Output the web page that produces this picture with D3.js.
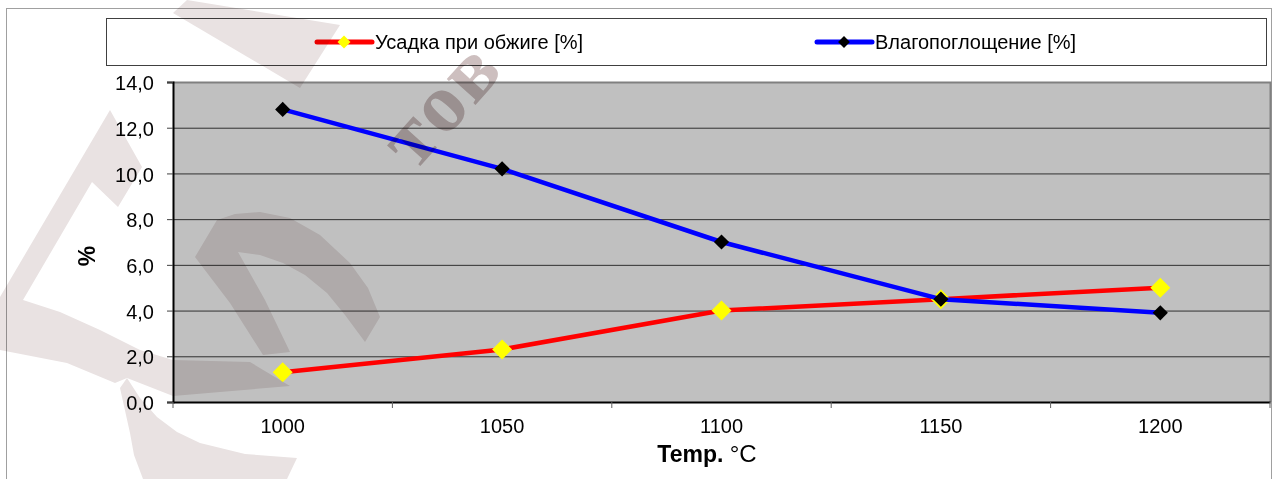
<!doctype html>
<html>
<head>
<meta charset="UTF-8">
<title>Усадка и влагопоглощение</title>
<script src="https://d3js.org/d3.v7.min.js"></script>
<style>
	body { margin: 0; background: #fff; }
	text { font-family: Arial, "Liberation Sans", sans-serif; fill: #000; }
</style>
</head>
<body>
<script>

	// data
	var temps = ["1000", "1050", "1100", "1150", "1200"];
	var shrinkage = [1.3, 2.3, 4.0, 4.5, 5.0];
	var absorption = [12.8, 10.2, 7.0, 4.5, 3.9];
	var yTicks = [0, 2, 4, 6, 8, 10, 12, 14];
	var seriesNames = ["Усадка при обжиге [%]", "Влагопоглощение [%]"];

	var W = 1274, H = 479;
	var plot = {left: 173, top: 82, right: 1270, bottom: 402};
	var plotW = plot.right - plot.left, plotH = plot.bottom - plot.top;

	var svg = d3.select("body").append("svg")
		.attr("width", W)
		.attr("height", H);

	// outer chart frame
	svg.append("rect")
		.attr("x", 6.5).attr("y", 8.5)
		.attr("width", 1265).attr("height", H)
		.attr("fill", "#fff")
		.attr("stroke", "#a0a0a0");

	// scales
	var x = d3.scaleBand().domain(temps).range([plot.left, plot.right]);
	var y = d3.scaleLinear().domain([0, 14]).range([plot.bottom, plot.top]);
	var cx = function(i) { return x(temps[i]) + x.bandwidth() / 2; };

	// plot area background
	svg.append("rect")
		.attr("x", plot.left).attr("y", plot.top)
		.attr("width", plotW).attr("height", plotH)
		.attr("fill", "#c0c0c0");

	// gridlines
	svg.append("g")
		.attr("transform", "translate(" + plot.left + ",0)")
		.call(d3.axisLeft(y).tickValues(yTicks).tickSize(-plotW).tickFormat(""))
		.call(function(g) { g.select(".domain").remove(); })
		.selectAll("line").attr("stroke", "#303030");

	// top and right border of plot area
	svg.append("path")
		.attr("d", "M" + plot.left + "," + (plot.top + 0.5) + "H" + (plot.right + 0.5) + "V" + plot.bottom)
		.attr("fill", "none")
		.attr("stroke", "#808080")
		.attr("stroke-width", 2);

	// y axis
	var yAxis = svg.append("g")
		.attr("transform", "translate(" + plot.left + ",0)")
		.call(d3.axisLeft(y).tickValues(yTicks).tickSize(6).tickPadding(13)
			.tickFormat(function(d) { return d3.format(".1f")(d).replace(".", ","); }));
	yAxis.select(".domain").attr("stroke", "#000").attr("stroke-width", 2);
	yAxis.selectAll(".tick line").attr("stroke", "#404040");
	yAxis.selectAll("text").attr("font-size", 20).attr("dy", "0.38em")
		.style("font-family", "Arial, 'Liberation Sans', sans-serif");

	// x axis labels (centred in categories)
	var xAxis = svg.append("g")
		.attr("transform", "translate(0," + plot.bottom + ")")
		.call(d3.axisBottom(x).tickSize(0).tickPadding(17));
	xAxis.select(".domain").attr("stroke", "#000").attr("stroke-width", 2);
	xAxis.selectAll("text").attr("font-size", 20)
		.style("font-family", "Arial, 'Liberation Sans', sans-serif");

	// x tick marks between categories
	svg.append("g").selectAll("line")
		.data(temps.map(function(d) { return x(d); }).concat([plot.right]))
		.enter().append("line")
			.attr("x1", function(d) { return d; })
			.attr("x2", function(d) { return d; })
			.attr("y1", plot.bottom)
			.attr("y2", plot.bottom + 6)
			.attr("stroke", "#606060");

	// axis titles
	var xt = svg.append("text")
		.attr("x", 707).attr("y", 462)
		.attr("text-anchor", "middle")
		.attr("font-size", 23);
	xt.append("tspan").attr("font-weight", "bold").text("Temp. ");
	xt.append("tspan").attr("font-size", 24).text("°C");

	svg.append("text")
		.attr("transform", "translate(95,256) rotate(-90)")
		.attr("text-anchor", "middle")
		.attr("font-size", 23)
		.attr("font-weight", "bold")
		.text("%");

	// lines and markers
	var line = d3.line()
		.x(function(d, i) { return cx(i); })
		.y(function(d) { return y(d); });

	var diamond = function(size) { return d3.symbol().type(d3.symbolSquare).size(size)(); };

	var series = [
		{values: shrinkage, color: "#ff0000", marker: "#ffff00", size: 200},
		{values: absorption, color: "#0000ff", marker: "#000000", size: 115}
	];

	series.forEach(function(s) {
		svg.append("path")
			.attr("d", line(s.values))
			.attr("fill", "none")
			.attr("stroke", s.color)
			.attr("stroke-width", 4.5)
			.attr("stroke-linejoin", "round");

		svg.append("g").selectAll("path")
			.data(s.values)
			.enter().append("path")
				.attr("d", diamond(s.size))
				.attr("transform", function(d, i) { return "translate(" + cx(i) + "," + y(d) + ") rotate(45)"; })
				.attr("fill", s.marker);
	});

	// legend
	svg.append("rect")
		.attr("x", 106.5).attr("y", 18.5)
		.attr("width", 1160).attr("height", 47)
		.attr("fill", "none")
		.attr("stroke", "#404040");

	var legendX = [317, 817];
	series.forEach(function(s, i) {
		var g = svg.append("g").attr("transform", "translate(" + legendX[i] + ",42)");
		g.append("line")
			.attr("x1", 0).attr("x2", 55)
			.attr("stroke", s.color)
			.attr("stroke-width", 5)
			.attr("stroke-linecap", "round");
		g.append("path")
			.attr("d", diamond(i == 0 ? 85 : 70))
			.attr("transform", "translate(27,0) rotate(45)")
			.attr("fill", s.marker);
		g.append("text")
			.attr("x", 58).attr("y", 7)
			.attr("font-size", 20)
			.text(seriesNames[i]);
	});

	// watermark drawn over the chart
	var wm = svg.append("g").style("mix-blend-mode", "multiply");
	var shapes = [
		[[187,0],[340,25],[300,88],[173,13]],
		[[0,297],[110,110],[142,167],[118,207],[92,182],[23,300],[0,300]],
		[[0,297],[23,300],[60,312],[100,330],[140,350],[173,360],[250,362],[290,386],[220,392],[173,396],[127,378],[115,383],[67,363],[0,350]],
		[[120,388],[127,378],[140,398],[157,417],[177,432],[200,443],[245,454],[297,458],[287,479],[143,479],[134,455],[130,433]],
		[[263,355],[230,303],[195,257],[217,220],[235,214],[260,212],[290,218],[320,235],[350,263],[368,288],[380,317],[365,342],
			[345,315],[327,293],[305,275],[283,263],[260,255],[238,252],[265,300],[290,352]]
	];
	wm.selectAll("path")
		.data(shapes)
		.enter().append("path")
			.attr("d", function(d) { return "M" + d.join("L") + "Z"; })
			.attr("fill", "#e9e2e2");
	svg.append("text")
		.attr("transform", "translate(415,172) rotate(-48)")
		.attr("font-size", 84)
		.attr("font-weight", "bold")
		.attr("letter-spacing", 4)
		.style("font-family", "'Liberation Serif', 'DejaVu Serif', serif")
		.style("fill", "#cdbfbf")
		.style("mix-blend-mode", "multiply")
		.text("тов");

</script>
</body>
</html>
